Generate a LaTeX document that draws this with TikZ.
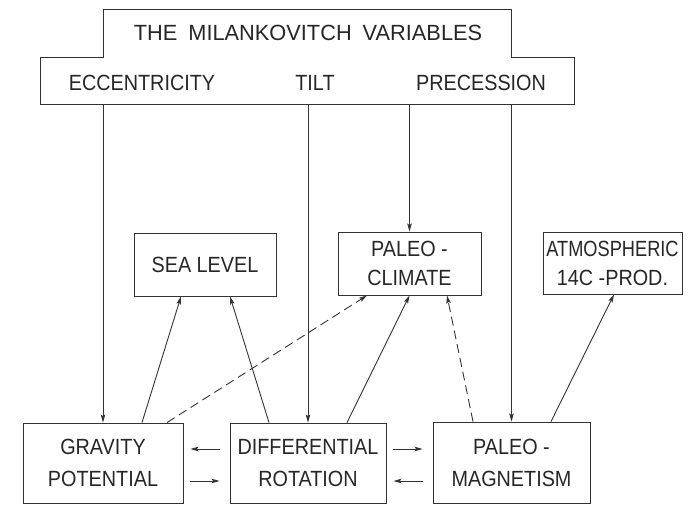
\documentclass[tikz,border=0pt]{standalone}
\usepackage{fontspec}
\setmainfont{Liberation Sans}[FakeStretch=0.9]
\usepackage{graphicx}
\usetikzlibrary{arrows.meta}
\begin{document}
\begin{tikzpicture}[x=1pt,y=-1pt,
  ink/.style={draw=black!80, line width=0.9pt},
  box/.style={ink, rectangle, inner sep=0pt, align=center, text=black!85, font=\fontsize{22}{32}\selectfont},
  boxs/.style={box, font=\fontsize{22}{29}\selectfont},
  lbl/.style={inner sep=0pt, text=black!85, font=\fontsize{22}{26}\selectfont},
  arr/.style={ink, -{Stealth[length=8pt,width=4.5pt,inset=1.5pt]}},
  dsh/.style={arr, dash pattern=on 9pt off 5pt}]
\useasboundingbox (0,0) rectangle (694,504);
% top box
\draw[ink] (103,9) -- (511,9) -- (511,57) -- (574,57) -- (574,104) -- (40,104) -- (40,57) -- (103,57) -- cycle;
\coordinate (milbase) at (0,104);
\node[lbl] (title) at (308,33) {\scalebox{1.1}[1]{THE\hspace{10pt}MILANKOVITCH\hspace{10pt}VARIABLES}};
\node[lbl] (ecc) at (142,83) {ECCENTRICITY};
\node[lbl] (tilt) at (315,83) {TILT};
\node[lbl] (prec) at (481,83) {PRECESSION};
% middle boxes
\node[box, minimum width=142pt, minimum height=63pt] (sea) at (205,264.5) {SEA LEVEL};
\node[boxs, minimum width=143pt, minimum height=63pt] (clim) at (409.5,263.5) {PALEO -\\CLIMATE};
\node[boxs, minimum width=139pt, minimum height=62pt] (atm) at (612.5,263) {\scalebox{0.92}[1]{ATMOSPHERIC}\\14C -PROD.};
% bottom boxes
\node[box, minimum width=160pt, minimum height=80pt] (grav) at (103,463) {GRAVITY\\POTENTIAL};
\node[box, minimum width=156pt, minimum height=80pt] (diff) at (308,463) {DIFFERENTIAL\\ROTATION};
\node[box, minimum width=157pt, minimum height=81pt] (mag) at (511.5,462.5) {PALEO -\\MAGNETISM};
% vertical arrows from the Milankovitch box
\draw[arr] (grav.north |- milbase) -- (grav.north);
\draw[arr] (diff.north |- milbase) -- (diff.north);
\draw[arr] (clim.north |- milbase) -- (clim.north);
\draw[arr] (mag.north |- milbase) -- (mag.north);
% diagonal arrows
\draw[arr] ([xshift=39pt]grav.north) -- ([xshift=-24pt]sea.south);
\draw[dsh] ([xshift=64pt]grav.north) -- ([xshift=-42.5pt]clim.south);
\draw[arr] ([xshift=-39pt]diff.north) -- ([xshift=25pt]sea.south);
\draw[arr] ([xshift=39pt]diff.north) -- (clim.south);
\draw[dsh] ([xshift=-38.5pt]mag.north) -- ([xshift=37.5pt]clim.south);
\draw[arr] ([xshift=39.5pt]mag.north) -- ([xshift=1.5pt]atm.south);
% horizontal arrows
\coordinate (r1) at (0,449);
\coordinate (r2) at (0,481);
\draw[arr, shorten <=10pt, shorten >=7pt] (diff.west |- r1) -- (grav.east |- r1);
\draw[arr, shorten <=7pt, shorten >=10pt] (grav.east |- r2) -- (diff.west |- r2);
\draw[arr, shorten <=7pt, shorten >=10pt] (diff.east |- r1) -- (mag.west |- r1);
\draw[arr, shorten <=10pt, shorten >=7pt] (mag.west |- r2) -- (diff.east |- r2);
\end{tikzpicture}
\end{document}
